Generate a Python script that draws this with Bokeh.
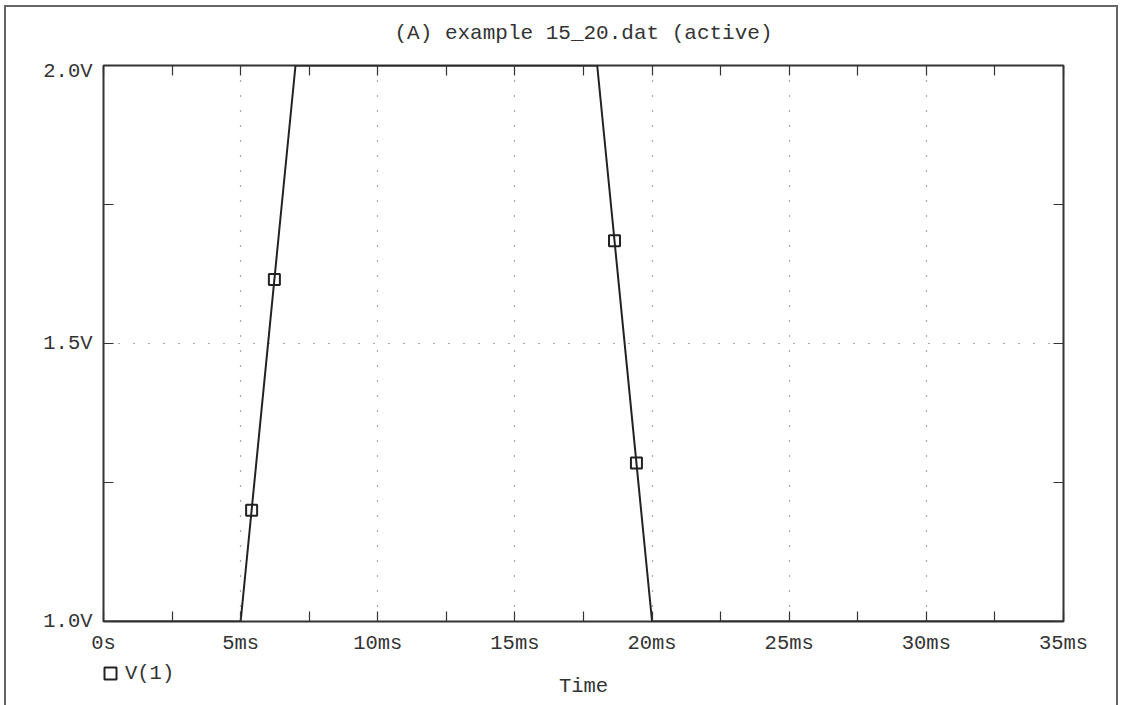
from bokeh.plotting import figure
from bokeh.layouts import column
from bokeh.models import (FixedTicker, LinearAxis, Range1d, Label,
                          Legend, LegendItem, ColumnDataSource, Grid)
from bokeh.embed import file_html
from bokeh.resources import INLINE

title_text = "(A) example 15_20.dat (active)"
x_label = "Time"
series_name = "V(1)"

# waveform (time in ms, volts)
time_ms = [0, 5, 7, 18, 20, 35]
v1 = [1.0, 1.0, 2.0, 2.0, 1.0, 1.0]
# symbol markers drawn on the trace
marker_time_ms = [5.4, 6.23, 18.63, 19.43]
marker_v1 = [1.2, 1.615, 1.685, 1.285]

x_ticks = [0, 5, 10, 15, 20, 25, 30, 35]
x_tick_labels = ["0s", "5ms", "10ms", "15ms", "20ms", "25ms", "30ms", "35ms"]
x_minor_ticks = [2.5, 7.5, 12.5, 17.5, 22.5, 27.5, 32.5]
y_ticks = [1.0, 1.5, 2.0]
y_tick_labels = ["1.0V", "1.5V", "2.0V"]
y_minor_ticks = [1.25, 1.75]

FONT = "Liberation Mono"
INK = "#333333"
FS = "20.5px"

W = 1110
ML, MR, MT, MB = 97, 53, 6, 40
H_TOP = 52
H_MAIN = 602
H_BOT = 44
X0, X1 = x_ticks[0], x_ticks[-1]


def strip(height):
    s = figure(width=W, height=height, x_range=p.x_range, y_range=Range1d(-1, 0),
               output_backend="svg", toolbar_location=None,
               x_axis_type=None, y_axis_type=None,
               min_border_left=0, min_border_right=0,
               min_border_top=0, min_border_bottom=0)
    s.outline_line_color = None
    s.background_fill_color = "white"
    s.border_fill_color = "white"
    return s


p = figure(width=W, height=H_MAIN, x_range=Range1d(X0, X1),
           y_range=Range1d(y_ticks[0], y_ticks[-1]),
           output_backend="svg", toolbar_location=None,
           x_axis_type=None, y_axis_type=None,
           min_border_left=ML, min_border_right=MR,
           min_border_top=MT, min_border_bottom=MB)
p.outline_line_color = INK
p.outline_line_width = 2
p.background_fill_color = "white"
p.border_fill_color = "white"

xt = FixedTicker(ticks=x_ticks, minor_ticks=x_minor_ticks)
yt = FixedTicker(ticks=y_ticks, minor_ticks=y_minor_ticks)


def style_axis(ax, show):
    ax.axis_line_color = None
    ax.major_tick_in = 10
    ax.major_tick_out = 0
    ax.minor_tick_in = 10
    ax.minor_tick_out = 0
    ax.major_tick_line_color = INK
    ax.minor_tick_line_color = INK
    ax.major_tick_line_width = 1.2
    ax.minor_tick_line_width = 1.2
    ax.major_label_text_font = FONT
    ax.major_label_text_color = INK
    if show:
        ax.major_label_text_font_size = FS
    else:
        ax.major_label_text_font_size = "0px"
        ax.major_label_standoff = 0


bx = LinearAxis(ticker=xt, major_label_overrides=dict(zip(x_ticks, x_tick_labels)))
style_axis(bx, True)
bx.major_label_standoff = 10
p.add_layout(bx, "below")

tx = LinearAxis(ticker=xt)
style_axis(tx, False)
p.add_layout(tx, "above")

ly = LinearAxis(ticker=yt, major_label_overrides=dict(zip(y_ticks, y_tick_labels)))
style_axis(ly, True)
ly.major_label_standoff = 11
p.add_layout(ly, "left")

ry = LinearAxis(ticker=yt)
style_axis(ry, False)
p.add_layout(ry, "right")

p.add_layout(Grid(dimension=0, ticker=FixedTicker(ticks=x_ticks[1:-1]),
                  grid_line_color="#555555", grid_line_dash="1 14", grid_line_width=1.2))
p.add_layout(Grid(dimension=1, ticker=FixedTicker(ticks=y_ticks[1:-1]),
                  grid_line_color="#555555", grid_line_dash="1 14", grid_line_width=1.2))

p.line(time_ms, v1, line_color="#222222", line_width=2)
src = ColumnDataSource(dict(t=marker_time_ms, v=marker_v1))
p.scatter("t", "v", source=src, marker="square", size=11, fill_color=None,
          line_color="#222222", line_width=2)

# title strip above the plot (frames of the column are aligned)
t = strip(H_TOP)
t.add_layout(Label(x=(X0 + X1) / 2, y=-26 / H_TOP, text=title_text, text_align="center",
                   text_baseline="middle", text_font=FONT,
                   text_font_size="21px", text_color=INK))

# strip below the plot: legend + x title
b = strip(H_BOT)
# same series symbols; they fall outside this strip's window, only the legend shows them
lg = b.scatter("t", "v", source=src, marker="square", size=11, fill_color=None,
               line_color="#222222", line_width=2)
legend = Legend(items=[LegendItem(label=series_name, renderers=[lg])],
                location=(-8, 17), glyph_width=30, glyph_height=30,
                label_standoff=0, padding=0, margin=0, spacing=0,
                border_line_color=None, background_fill_alpha=0,
                label_text_font=FONT, label_text_font_size=FS,
                label_text_color=INK)
b.add_layout(legend, "center")
b.add_layout(Label(x=(X0 + X1) / 2, y=-25 / H_BOT, text=x_label, text_align="center",
                   text_baseline="middle", text_font=FONT,
                   text_font_size=FS, text_color=INK))

layout = column(t, p, b, spacing=0,
                styles={"border-left": "2px solid #666666",
                        "border-top": "2px solid #666666",
                        "border-right": "2px solid #666666",
                        "margin-left": "4px", "margin-top": "5px"})

open("out.html", "w").write(file_html(layout, INLINE))
